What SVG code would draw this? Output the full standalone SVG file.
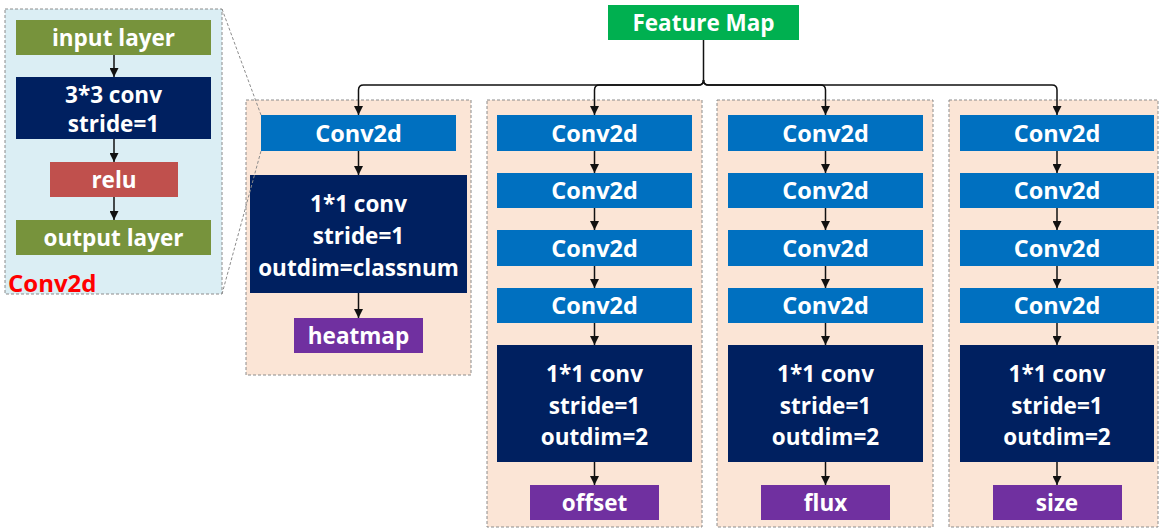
<svg xmlns="http://www.w3.org/2000/svg" width="1159" height="529" viewBox="0 0 1159 529">
<defs>
<marker id="ah" viewBox="0 0 10 10" refX="10" refY="5" markerWidth="9" markerHeight="9" markerUnits="userSpaceOnUse" orient="auto">
<path d="M0,0 L10,5 L0,10 z" fill="#111"/>
</marker>
<style>
.t{font-family:"Open Sans","Liberation Sans",sans-serif;font-weight:bold;font-size:22.5px;fill:#fff;text-anchor:middle;dominant-baseline:central}
.k{font-size:23.5px}
.panel{fill:#FBE5D6;stroke:#8c8c8c;stroke-width:1;stroke-dasharray:3 2}
.lp{fill:#DBEEF4;stroke:#8c8c8c;stroke-width:1;stroke-dasharray:3 2}
.conv{fill:#0070C0}
.navy{fill:#002060}
.purple{fill:#7030A0}
.green{fill:#77933C}
.c{stroke:#111;stroke-width:1.5;fill:none;marker-end:url(#ah)}
.d{stroke:#8c8c8c;stroke-width:1;stroke-dasharray:3 2;fill:none}
</style>
</defs>
<rect width="1159" height="529" fill="#fff"/>

<!-- panels -->
<g id="panel-left">
<rect class="lp" x="5" y="9" width="217" height="285"/>
<text x="8" y="282" style="font-family:'Open Sans','Liberation Sans',sans-serif;font-weight:bold;font-size:24px;fill:#FF0000;dominant-baseline:central">Conv2d</text>
</g>
<g id="panel-heatmap"><rect class="panel" x="246" y="100" width="225" height="275"/></g>
<g id="panel-offset"><rect class="panel" x="487" y="100" width="215" height="427"/></g>
<g id="panel-flux"><rect class="panel" x="717" y="100" width="216" height="427"/></g>
<g id="panel-size"><rect class="panel" x="949" y="100" width="209" height="427"/></g>

<!-- left detail nodes -->
<g id="input-layer"><rect class="green" x="16" y="20" width="195" height="35"/><text class="t" x="113.5" y="37">input layer</text></g>
<g id="conv33"><rect class="navy" x="16" y="77" width="195" height="62"/><text class="t" x="113.5" y="94">3*3 conv</text><text class="t" x="113.5" y="123">stride=1</text></g>
<g id="relu"><rect fill="#C0504D" x="50" y="162" width="128" height="35"/><text class="t" x="114" y="179">relu</text></g>
<g id="output-layer"><rect class="green" x="16" y="220" width="195" height="35"/><text class="t" x="113.5" y="237">output layer</text></g>

<!-- feature map -->
<g id="feature-map"><rect fill="#00B050" x="608" y="5" width="191" height="35"/><text class="t" x="703.5" y="22">Feature Map</text></g>

<!-- heatmap branch -->
<g id="h-conv1"><rect class="conv" x="261" y="115" width="195" height="36"/><text class="t k" x="358.5" y="132.5">Conv2d</text></g>
<g id="h-1x1"><rect class="navy" x="250" y="175" width="217" height="118"/><text class="t" x="358.5" y="203">1*1 conv</text><text class="t" x="358.5" y="235">stride=1</text><text class="t" x="358.5" y="267">outdim=classnum</text></g>
<g id="heatmap"><rect class="purple" x="294" y="318" width="129" height="35"/><text class="t" x="358.5" y="335">heatmap</text></g>

<!-- offset branch -->
<g id="o-conv1"><rect class="conv" x="497" y="115" width="195" height="36"/><text class="t k" x="594.5" y="132.5">Conv2d</text></g>
<g id="o-conv2"><rect class="conv" x="497" y="173" width="195" height="35"/><text class="t k" x="594.5" y="190">Conv2d</text></g>
<g id="o-conv3"><rect class="conv" x="497" y="230" width="195" height="36"/><text class="t k" x="594.5" y="247.5">Conv2d</text></g>
<g id="o-conv4"><rect class="conv" x="497" y="288" width="195" height="35"/><text class="t k" x="594.5" y="305">Conv2d</text></g>
<g id="o-1x1"><rect class="navy" x="497" y="345" width="195" height="117"/><text class="t" x="594.5" y="373">1*1 conv</text><text class="t" x="594.5" y="405">stride=1</text><text class="t" x="594.5" y="436">outdim=2</text></g>
<g id="offset"><rect class="purple" x="530" y="485" width="129" height="35"/><text class="t" x="594.5" y="502">offset</text></g>

<!-- flux branch -->
<g id="f-conv1"><rect class="conv" x="728" y="115" width="195" height="36"/><text class="t k" x="825.5" y="132.5">Conv2d</text></g>
<g id="f-conv2"><rect class="conv" x="728" y="173" width="195" height="35"/><text class="t k" x="825.5" y="190">Conv2d</text></g>
<g id="f-conv3"><rect class="conv" x="728" y="230" width="195" height="36"/><text class="t k" x="825.5" y="247.5">Conv2d</text></g>
<g id="f-conv4"><rect class="conv" x="728" y="288" width="195" height="35"/><text class="t k" x="825.5" y="305">Conv2d</text></g>
<g id="f-1x1"><rect class="navy" x="728" y="345" width="195" height="117"/><text class="t" x="825.5" y="373">1*1 conv</text><text class="t" x="825.5" y="405">stride=1</text><text class="t" x="825.5" y="436">outdim=2</text></g>
<g id="flux"><rect class="purple" x="761" y="485" width="129" height="35"/><text class="t" x="825.5" y="502">flux</text></g>

<!-- size branch -->
<g id="s-conv1"><rect class="conv" x="960" y="115" width="194" height="36"/><text class="t k" x="1057" y="132.5">Conv2d</text></g>
<g id="s-conv2"><rect class="conv" x="960" y="173" width="194" height="35"/><text class="t k" x="1057" y="190">Conv2d</text></g>
<g id="s-conv3"><rect class="conv" x="960" y="230" width="194" height="36"/><text class="t k" x="1057" y="247.5">Conv2d</text></g>
<g id="s-conv4"><rect class="conv" x="960" y="288" width="194" height="35"/><text class="t k" x="1057" y="305">Conv2d</text></g>
<g id="s-1x1"><rect class="navy" x="960" y="345" width="194" height="117"/><text class="t" x="1057" y="373">1*1 conv</text><text class="t" x="1057" y="405">stride=1</text><text class="t" x="1057" y="436">outdim=2</text></g>
<g id="size"><rect class="purple" x="993" y="485" width="129" height="35"/><text class="t" x="1057" y="502">size</text></g>

<!-- connectors -->
<g id="connectors">
<path class="d" d="M222,9 L261,115"/>
<path class="d" d="M222,294 L261,151"/>
<path class="c" d="M114,55 V77"/>
<path class="c" d="M114,139 V162"/>
<path class="c" d="M114,197 V220"/>
<path class="c" d="M703.5,40 V80 Q703.5,85 698.5,85 H363.5 Q358.5,85 358.5,90 V115"/>
<path class="c" d="M703.5,80 Q703.5,85 698.5,85 H599.5 Q594.5,85 594.5,90 V115"/>
<path class="c" d="M703.5,80 Q703.5,85 708.5,85 H820.5 Q825.5,85 825.5,90 V115"/>
<path class="c" d="M703.5,80 Q703.5,85 708.5,85 H1052 Q1057,85 1057,90 V115"/>
<path class="c" d="M358.5,151 V175"/>
<path class="c" d="M358.5,293 V318"/>
<path class="c" d="M594.5,151 V173"/>
<path class="c" d="M594.5,208 V230"/>
<path class="c" d="M594.5,266 V288"/>
<path class="c" d="M594.5,323 V345"/>
<path class="c" d="M594.5,462 V485"/>
<path class="c" d="M825.5,151 V173"/>
<path class="c" d="M825.5,208 V230"/>
<path class="c" d="M825.5,266 V288"/>
<path class="c" d="M825.5,323 V345"/>
<path class="c" d="M825.5,462 V485"/>
<path class="c" d="M1057,151 V173"/>
<path class="c" d="M1057,208 V230"/>
<path class="c" d="M1057,266 V288"/>
<path class="c" d="M1057,323 V345"/>
<path class="c" d="M1057,462 V485"/>
</g>
</svg>
